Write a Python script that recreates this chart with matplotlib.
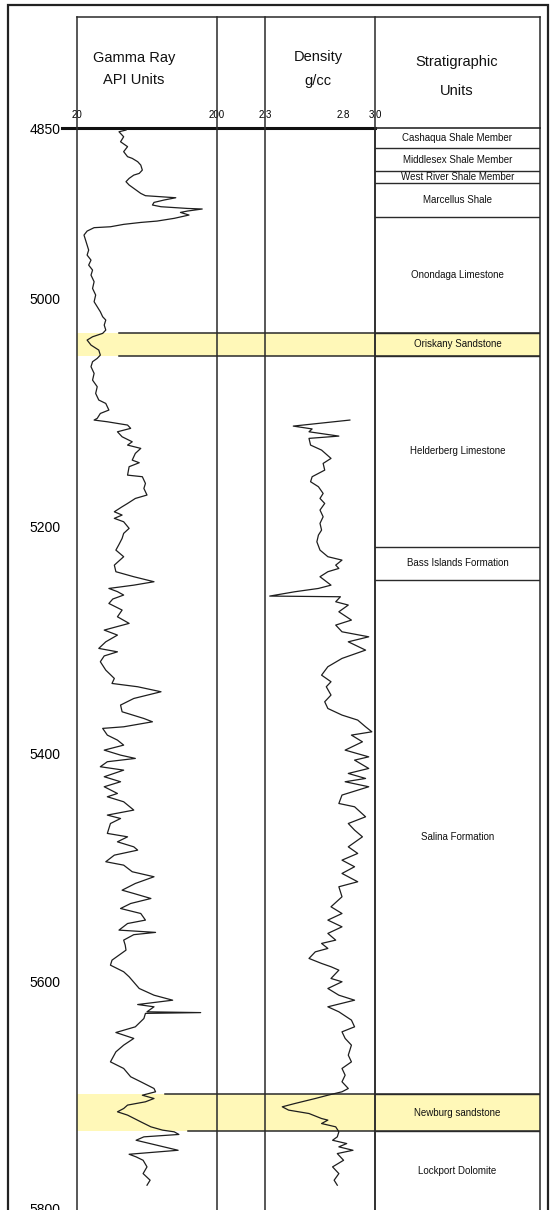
import matplotlib
matplotlib.use('Agg')
import matplotlib.pyplot as plt
from matplotlib.lines import Line2D
from matplotlib.patches import Rectangle

plt.rcParams['font.family'] = ['Liberation Sans', 'DejaVu Sans']

# gamma ray log: depth (ft) / API units
gr_depth = [4851.8, 4853.3, 4857.7, 4862.1, 4866.4, 4870.8, 4875.2, 4876.7, 4879.6, 4882.6,
            4887.0, 4889.9, 4891.4, 4894.3, 4897.2, 4900.1, 4903.1, 4907.5, 4909.5, 4910.4,
            4911.3, 4913.3, 4915.4, 4917.7, 4919.2, 4920.1, 4920.7, 4921.2, 4923.0, 4924.2,
            4926.5, 4929.4, 4931.8, 4933.0, 4934.7, 4936.8, 4937.6, 4940.6, 4944.1, 4948.5,
            4952.9, 4957.3, 4961.7, 4966.1, 4970.5, 4974.9, 4979.3, 4985.1, 4991.0, 4996.8,
            5002.7, 5007.1, 5011.5, 5015.9, 5018.8, 5023.2, 5027.6, 5030.5, 5033.5, 5036.4,
            5040.8, 5045.2, 5049.6, 5052.5, 5055.4, 5059.8, 5065.7, 5071.6, 5077.4, 5083.3,
            5089.1, 5092.1, 5097.9, 5100.9, 5105.2, 5106.7, 5108.2, 5111.1, 5114.0, 5117.0,
            5121.4, 5125.8, 5128.7, 5131.6, 5136.0, 5141.9, 5144.2, 5147.7, 5155.1, 5156.5,
            5162.4, 5166.8, 5172.6, 5175.6, 5180.0, 5182.9, 5187.3, 5190.2, 5193.1, 5196.1,
            5201.9, 5206.3, 5210.7, 5216.0, 5221.0, 5226.8, 5234.2, 5240.0, 5244.4, 5248.8,
            5251.8, 5254.7, 5257.5, 5260.5, 5264.0, 5267.9, 5273.7, 5279.6, 5285.4, 5291.3,
            5295.7, 5301.6, 5307.4, 5310.4, 5314.0, 5319.1, 5326.5, 5333.8, 5338.2, 5341.1,
            5345.5, 5351.4, 5357.2, 5363.1, 5369.0, 5371.9, 5376.3, 5377.7, 5383.6, 5388.0,
            5392.4, 5396.8, 5401.2, 5404.1, 5407.0, 5411.4, 5414.4, 5420.2, 5424.6, 5429.0,
            5434.9, 5437.8, 5442.2, 5449.5, 5453.9, 5456.9, 5461.3, 5470.0, 5473.0, 5477.4,
            5481.8, 5484.7, 5489.1, 5494.9, 5497.9, 5503.7, 5508.1, 5514.0, 5519.9, 5522.8,
            5527.2, 5531.6, 5536.0, 5540.4, 5546.2, 5549.2, 5555.0, 5557.0, 5559.0, 5563.8,
            5568.2, 5572.6, 5581.4, 5585.8, 5591.6, 5596.0, 5606.3, 5612.2, 5616.6, 5620.4,
            5622.4, 5626.8, 5627.5, 5628.2, 5632.7, 5640.0, 5645.0, 5650.2, 5656.1, 5662.0,
            5670.8, 5676.6, 5683.9, 5688.3, 5694.2, 5697.1, 5700.1, 5703.0, 5705.9, 5708.8,
            5711.8, 5714.7, 5717.6, 5723.5, 5727.9, 5730.8, 5732.3, 5734.6, 5736.7, 5739.7,
            5742.6, 5746.9, 5748.5, 5750.0, 5752.0, 5754.3, 5757.3, 5763.1, 5769.0, 5774.8,
            5779.2]
gr_api = [83, 74, 80, 76, 85, 80, 85, 91, 98, 102,
          104, 100, 93, 87, 83, 87, 93, 102, 108, 128,
          147, 132, 119, 117, 128, 149, 162, 181, 162, 153,
          164, 145, 123, 102, 80, 63, 42, 33, 29, 31,
          33, 35, 33, 38, 35, 40, 38, 42, 40, 44,
          42, 46, 50, 53, 57, 55, 57, 53, 40, 33,
          38, 48, 50, 46, 40, 38, 42, 40, 46, 44,
          48, 57, 61, 50, 46, 42, 59, 85, 89, 72,
          78, 91, 85, 102, 95, 91, 100, 87, 85, 104,
          108, 106, 110, 95, 85, 78, 68, 78, 68, 80,
          87, 80, 78, 74, 70, 80, 68, 70, 93, 119,
          93, 61, 72, 80, 66, 61, 78, 72, 87, 55,
          72, 57, 48, 72, 55, 50, 57, 68, 65, 98,
          128, 93, 76, 78, 106, 117, 80, 53, 59, 72,
          80, 55, 76, 95, 59, 50, 80, 55, 76, 55,
          72, 59, 80, 93, 59, 76, 63, 59, 85, 72,
          93, 98, 68, 57, 80, 91, 119, 95, 78, 93,
          115, 89, 76, 102, 108, 85, 74, 121, 93, 80,
          82, 83, 65, 63, 80, 87, 100, 119, 143, 98,
          119, 110, 179, 108, 106, 95, 70, 93, 80, 70,
          63, 80, 89, 102, 119, 121, 104, 119, 108, 85,
          80, 72, 85, 102, 115, 130, 145, 151, 106, 96,
          114, 141, 150, 123, 87, 96, 105, 110, 105, 114,
          110]

# bulk density log: depth (ft) / g/cc
rho_depth = [5106.7, 5112.0, 5114.5, 5117.0, 5120.8, 5122.8, 5128.7, 5133.1, 5140.4, 5144.8,
             5150.7, 5156.5, 5160.9, 5165.3, 5171.2, 5175.6, 5180.0, 5185.8, 5191.7, 5197.5,
             5203.4, 5207.8, 5213.7, 5221.0, 5226.8, 5229.8, 5234.2, 5237.1, 5240.0, 5244.4,
             5251.8, 5254.7, 5257.6, 5261.4, 5262.0, 5266.4, 5269.3, 5275.2, 5282.5, 5286.9,
             5292.8, 5297.2, 5301.6, 5308.9, 5316.2, 5323.5, 5330.9, 5336.7, 5341.1, 5348.4,
             5354.3, 5360.2, 5366.0, 5370.4, 5376.3, 5380.7, 5383.6, 5389.5, 5396.8, 5402.7,
             5405.6, 5412.9, 5417.3, 5421.7, 5424.6, 5429.0, 5436.3, 5443.7, 5446.6, 5455.4,
             5461.3, 5467.1, 5473.0, 5481.8, 5487.6, 5493.5, 5499.3, 5505.2, 5512.5, 5516.9,
             5525.7, 5534.5, 5540.4, 5546.2, 5552.1, 5557.9, 5563.8, 5566.7, 5571.1, 5574.1,
             5579.9, 5584.3, 5587.2, 5590.2, 5597.5, 5600.4, 5606.3, 5612.2, 5616.6, 5622.4,
             5626.8, 5634.1, 5640.0, 5644.4, 5650.2, 5656.1, 5664.9, 5670.8, 5676.6, 5682.5,
             5688.3, 5694.2, 5697.1, 5700.1, 5703.0, 5707.4, 5710.3, 5713.2, 5716.2, 5720.6,
             5722.0, 5725.0, 5727.9, 5732.3, 5736.7, 5739.7, 5742.6, 5745.5, 5748.5, 5751.4,
             5757.3, 5763.1, 5769.0, 5774.8, 5779.2]
rho_gcc = [2.84, 2.48, 2.60, 2.58, 2.77, 2.58, 2.59, 2.66, 2.72, 2.67,
           2.68, 2.60, 2.59, 2.64, 2.67, 2.65, 2.68, 2.65, 2.67, 2.65,
           2.66, 2.64, 2.63, 2.65, 2.70, 2.79, 2.75, 2.77, 2.70, 2.65,
           2.72, 2.64, 2.49, 2.33, 2.78, 2.75, 2.83, 2.77, 2.85, 2.75,
           2.79, 2.96, 2.83, 2.94, 2.79, 2.70, 2.66, 2.72, 2.69, 2.72,
           2.68, 2.70, 2.79, 2.89, 2.94, 2.98, 2.85, 2.92, 2.81, 2.96,
           2.87, 2.96, 2.83, 2.94, 2.81, 2.96, 2.79, 2.77, 2.87, 2.94,
           2.83, 2.87, 2.92, 2.83, 2.89, 2.79, 2.87, 2.79, 2.89, 2.77,
           2.79, 2.72, 2.79, 2.70, 2.79, 2.70, 2.75, 2.66, 2.70, 2.62,
           2.58, 2.66, 2.72, 2.77, 2.72, 2.79, 2.70, 2.77, 2.87, 2.70,
           2.77, 2.85, 2.87, 2.79, 2.81, 2.85, 2.83, 2.85, 2.79, 2.81,
           2.79, 2.83, 2.79, 2.70, 2.62, 2.49, 2.41, 2.45, 2.58, 2.66,
           2.70, 2.66, 2.75, 2.77, 2.76, 2.73, 2.82, 2.77, 2.86, 2.76,
           2.80, 2.73, 2.77, 2.74, 2.76]

# stratigraphic units (top depth, name)
unit_names = ['Cashaqua Shale Member', 'Middlesex Shale Member', 'West River Shale Member',
              'Marcellus Shale', 'Onondaga Limestone', 'Oriskany Sandstone',
              'Helderberg Limestone', 'Bass Islands Formation', 'Salina Formation',
              'Newburg sandstone', 'Lockport Dolomite']
unit_tops = [4850, 4868, 4887.5, 4898.5, 4928, 5030, 5050, 5218, 5247, 5699, 5732]
section_base = 5801
sand_units = ['Oriskany Sandstone', 'Newburg sandstone']

depth_ticks = [4850, 5000, 5200, 5400, 5600, 5800]
gr_ticks = [20, 200]
rho_ticks = [2.3, 2.8, 3.0]

W, H = 551, 1210
LINE = '#2a2a2a'
YEL = '#fff8b8'
TOP = 128  # pixel row of the 4850 ft line

fig = plt.figure(figsize=(W / 100, H / 100), dpi=100)


def box(x0, x1):
    return [x0 / W, 0, (x1 - x0) / W, (H - TOP) / H]


ax_bg = fig.add_axes(box(77, 540))
ax_gr = fig.add_axes(box(77, 217), sharey=ax_bg)
ax_rho = fig.add_axes(box(265, 375), sharey=ax_bg)
ax_st = fig.add_axes(box(375, 540), sharey=ax_bg)
ax_bg.set_ylim(section_base, 4850)

# background: sand bands + depth labels
ax_bg.set_xlim(0, 1)
for sp in ax_bg.spines.values():
    sp.set_visible(False)
ax_bg.set_xticks([])
ax_bg.set_yticks(depth_ticks)
ax_bg.set_yticklabels([str(d) for d in depth_ticks], fontsize=10)
ax_bg.tick_params(axis='y', length=0, pad=12)
tops_ext = unit_tops + [section_base]
band_start = {'Oriskany Sandstone': (0.09, 0.09), 'Newburg sandstone': (0.19, 0.24)}
for i, name in enumerate(unit_names):
    if name in sand_units:
        t, b = tops_ext[i], tops_ext[i + 1]
        ax_bg.axhspan(t, b, color=YEL, lw=0, zorder=0)
        ax_bg.axhline(t, xmin=band_start[name][0], color=LINE, lw=1.1, zorder=1)
        ax_bg.axhline(b, xmin=band_start[name][1], color=LINE, lw=1.1, zorder=1)

# top depth line
ax_bg.axhline(4850, xmin=-15 / 463, xmax=298 / 463, color='#111', lw=2.2, clip_on=False, zorder=5)
ax_bg.axhline(4850, xmin=298 / 463, xmax=1, color=LINE, lw=1.2, clip_on=False, zorder=5)

# gamma ray track
ax_gr.patch.set_visible(False)
ax_gr.plot(gr_api, gr_depth, color='#1e1e1e', lw=0.9)
ax_gr.set_xlim(20, 200)
ax_gr.xaxis.tick_top()
ax_gr.set_xticks(gr_ticks)
ax_gr.set_xticklabels([str(v) for v in gr_ticks], fontsize=7)
ax_gr.tick_params(axis='x', length=0, pad=6)
ax_gr.tick_params(axis='y', left=False, labelleft=False)

# density track
ax_rho.patch.set_visible(False)
ax_rho.plot(rho_gcc, rho_depth, color='#1e1e1e', lw=0.9)
ax_rho.set_xlim(2.3, 3.0)
ax_rho.xaxis.tick_top()
ax_rho.set_xticks(rho_ticks)
ax_rho.set_xticklabels([f'{v:.1f}' for v in rho_ticks], fontsize=7)
ax_rho.tick_params(axis='x', length=0, pad=6)
ax_rho.tick_params(axis='y', left=False, labelleft=False)

for ax in (ax_gr, ax_rho, ax_st):
    ax.spines['top'].set_visible(False)
    ax.spines['bottom'].set_visible(False)
    ax.spines['left'].set_color(LINE)
    ax.spines['right'].set_color(LINE)
    ax.spines['left'].set_linewidth(1.1)
    ax.spines['right'].set_linewidth(1.1)

# stratigraphic column
ax_st.patch.set_visible(False)
ax_st.set_xlim(0, 1)
ax_st.set_xticks([])
ax_st.tick_params(axis='y', left=False, labelleft=False)
for i, name in enumerate(unit_names):
    t, b = tops_ext[i], tops_ext[i + 1]
    if i > 0:
        ax_st.axhline(t, color=LINE, lw=1.0)
    ax_st.text(0.5, (t + b) / 2, name, ha='center', va='center', fontsize=7, color='#111')

# header frame and titles
hdr_top = 17
for px in (77, 217, 265, 375, 540):
    fig.add_artist(Line2D([px / W, px / W], [1 - hdr_top / H, 1 - TOP / H], color=LINE, lw=1.1))
fig.add_artist(Line2D([77 / W, 540 / W], [1 - hdr_top / H, 1 - hdr_top / H], color=LINE, lw=1.1))
fig.add_artist(Rectangle((8 / W, -0.01), 540 / W, 1.01 - 5 / H, transform=fig.transFigure,
                         fill=False, ec='#222', lw=1.6))

hdr_kw = dict(ha='center', va='center', fontsize=10.5, color='#111')
fig.text(134 / W, 1 - 58 / H, 'Gamma Ray', **hdr_kw)
fig.text(134 / W, 1 - 80 / H, 'API Units', **hdr_kw)
fig.text(318 / W, 1 - 57 / H, 'Density', **hdr_kw)
fig.text(318 / W, 1 - 81 / H, 'g/cc', **hdr_kw)
fig.text(457 / W, 1 - 62 / H, 'Stratigraphic', **hdr_kw)
fig.text(457 / W, 1 - 91 / H, 'Units', **hdr_kw)

fig.savefig('out.png', dpi=100)
